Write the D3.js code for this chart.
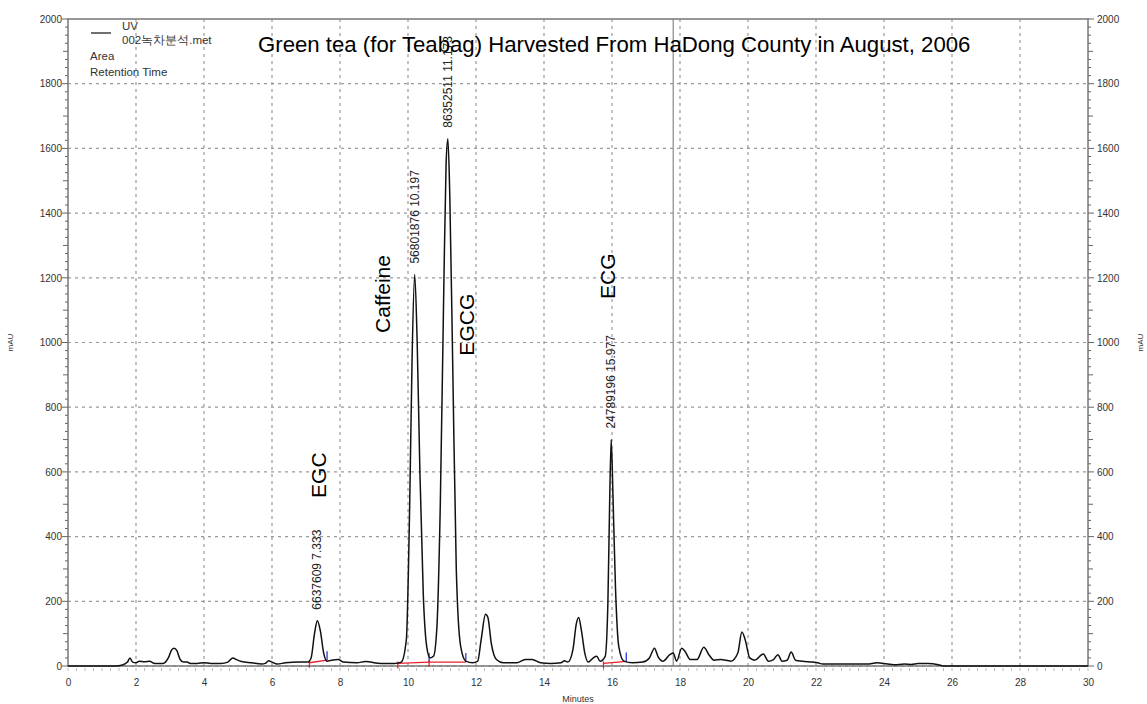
<!DOCTYPE html>
<html>
<head>
<meta charset="utf-8">
<script src="https://cdn.jsdelivr.net/npm/d3@7"></script>
<style>
  body { margin: 0; background: #fff; }
  text { font-family: "Liberation Sans", Arial, sans-serif; }
</style>
</head>
<body>
<div id="chart"></div>
<script>
// Traço do cromatograma (minutos, mAU)
const tempos = [0, 1.4, 1.6, 1.75, 1.82, 1.9, 2.0, 2.1, 2.25, 2.4, 2.55, 2.8, 2.95, 3.05, 3.12, 3.2, 3.3, 3.4, 3.5, 3.6,
  3.8, 4.0, 4.2, 4.5, 4.7, 4.85, 4.95, 5.1, 5.4, 5.7, 5.8, 5.9, 6.0, 6.15, 6.4, 6.8, 7.05, 7.15, 7.25, 7.333,
  7.42, 7.52, 7.62, 7.75, 7.95, 8.1, 8.5, 8.75, 8.9, 9.2, 9.6, 9.8, 9.95, 10.05, 10.12, 10.197, 10.27, 10.35, 10.45, 10.55,
  10.65, 10.75, 10.85, 10.95, 11.05, 11.12, 11.173, 11.23, 11.32, 11.42, 11.55, 11.7, 11.9, 12.05, 12.15, 12.28, 12.35, 12.45, 12.6, 12.8,
  13.2, 13.45, 13.65, 13.9, 14.2, 14.5, 14.6, 14.7, 14.85, 14.95, 15.02, 15.1, 15.2, 15.3, 15.45, 15.55, 15.65, 15.8, 15.88, 15.93,
  15.977, 16.03, 16.1, 16.2, 16.35, 16.6, 16.9, 17.1, 17.25, 17.35, 17.5, 17.7, 17.8, 17.9, 18.05, 18.15, 18.3, 18.5, 18.7, 18.85,
  19.0, 19.2, 19.5, 19.7, 19.82, 19.92, 20.05, 20.2, 20.45, 20.6, 20.75, 20.88, 21.0, 21.15, 21.27, 21.4, 21.6, 21.9, 22.05, 22.2,
  23.5, 23.8, 24.0, 24.3, 24.6, 24.8, 25.0, 25.3, 25.6, 25.75, 30];
const sinal = [0, 0, 3, 12, 25, 12, 10, 15, 13, 15, 8, 8, 25, 50, 55, 48, 20, 12, 12, 8,
  8, 10, 8, 8, 12, 25, 20, 14, 10, 6, 8, 16, 12, 6, 10, 12, 12, 25, 100, 140,
  110, 40, 15, 18, 20, 12, 10, 14, 12, 8, 8, 12, 80, 500, 950, 1210, 1000, 600, 220, 60,
  25, 30, 120, 500, 1150, 1550, 1630, 1450, 900, 300, 60, 15, 10, 15, 80, 160, 150, 70, 20, 10,
  10, 20, 20, 10, 8, 10, 16, 12, 50, 130, 150, 110, 40, 12, 25, 30, 15, 30, 200, 500,
  700, 520, 250, 60, 15, 10, 12, 25, 55, 30, 15, 35, 40, 15, 55, 45, 20, 20, 58, 35,
  18, 20, 15, 40, 105, 80, 25, 18, 37, 15, 20, 35, 15, 18, 43, 18, 15, 12, 10, 6,
  6, 10, 8, 4, 6, 5, 8, 8, 4, 0, 0];

// Picos integrados
const picosNome = ['EGC', 'Caffeine', 'EGCG', 'ECG'];
const picosArea = ['6637609', '56801876', '86352511', '24789196'];
const picosTempo = [7.333, 10.197, 11.173, 15.977];
const picosAltura = [140, 1210, 1630, 700];

// Linhas de base da integração: [início, fim, mAU início, mAU fim]
const basesInicio = [7.1, 9.7, 10.62, 15.75];
const basesFim = [7.62, 10.62, 11.7, 16.42];
const basesNivelIni = [10, 8, 12, 8];
const basesNivelFim = [18, 12, 12, 14];

const xTicks = d3.range(0, 31, 2);
const yTicks = d3.range(0, 2001, 200);
const linhaVertical = 17.8;

// Configurações do gráfico
const W = 1147, H = 704;
const margin = { top: 19, right: 59, bottom: 38, left: 68 };
const width = W - margin.left - margin.right;
const height = H - margin.top - margin.bottom;

const svg = d3.select('#chart').append('svg')
  .attr('width', W).attr('height', H);
svg.append('rect').attr('width', W).attr('height', H).attr('fill', '#fff');

const g = svg.append('g').attr('transform', `translate(${margin.left},${margin.top})`);

const x = d3.scaleLinear().domain([0, 30]).range([0, width]);
const y = d3.scaleLinear().domain([0, 2000]).range([height, 0]);

// Grade tracejada
g.append('g').selectAll('line').data(xTicks.slice(1, -1)).join('line')
  .attr('x1', d => x(d)).attr('x2', d => x(d)).attr('y1', 0).attr('y2', height)
  .attr('stroke', '#999').attr('stroke-width', 1.2).attr('stroke-dasharray', '3,4');
g.append('g').selectAll('line').data(yTicks.slice(0, -1)).join('line')
  .attr('x1', 0).attr('x2', width).attr('y1', d => y(d)).attr('y2', d => y(d))
  .attr('stroke', '#999').attr('stroke-width', 1.2).attr('stroke-dasharray', '3,4');

// Linha vertical sólida
g.append('line')
  .attr('x1', x(linhaVertical)).attr('x2', x(linhaVertical)).attr('y1', 0).attr('y2', height)
  .attr('stroke', '#888').attr('stroke-width', 1.2);

// Moldura
g.append('rect').attr('width', width).attr('height', height)
  .attr('fill', 'none').attr('stroke', '#777').attr('stroke-width', 1.5);

// Eixos
const tickFont = sel => sel.selectAll('text')
  .attr('font-size', 10).attr('fill', '#333');

const yMinor = d3.range(0, 2001, 25);
function marcas(sel, lado) {
  sel.selectAll('line.m').data(yMinor).join('line')
    .attr('x1', 0)
    .attr('x2', d => lado * (d % 200 === 0 ? 6 : d % 100 === 0 ? 5 : 3))
    .attr('y1', d => y(d)).attr('y2', d => y(d))
    .attr('stroke', '#666');
}

const eixoEsq = g.append('g')
  .call(d3.axisLeft(y).tickValues(yTicks).tickFormat(d3.format('d')).tickSize(0).tickPadding(6));
eixoEsq.select('.domain').remove();
tickFont(eixoEsq);
marcas(eixoEsq, -1);

const eixoDir = g.append('g').attr('transform', `translate(${width},0)`)
  .call(d3.axisRight(y).tickValues(yTicks).tickFormat(d3.format('d')).tickSize(0).tickPadding(9));
eixoDir.select('.domain').remove();
tickFont(eixoDir);
marcas(eixoDir, 1);

const eixoX = g.append('g').attr('transform', `translate(0,${height})`)
  .call(d3.axisBottom(x).tickValues(xTicks).tickSize(0).tickPadding(13));
eixoX.select('.domain').remove();
tickFont(eixoX);
eixoX.selectAll('line.m').data(d3.range(0, 30.01, 0.25)).join('line')
  .attr('x1', d => x(d)).attr('x2', d => x(d)).attr('y1', 2).attr('y2', 5)
  .attr('stroke', '#bbb');

// Títulos dos eixos
svg.append('text').attr('x', margin.left + width / 2).attr('y', H - 2)
  .attr('text-anchor', 'middle').attr('font-size', 9).attr('fill', '#333').text('Minutes');
svg.append('text').attr('transform', `translate(13,${margin.top + height / 2}) rotate(-90)`)
  .attr('text-anchor', 'middle').attr('font-size', 8).attr('fill', '#333').text('mAU');
svg.append('text').attr('transform', `translate(1143,${margin.top + height / 2}) rotate(-90)`)
  .attr('text-anchor', 'middle').attr('font-size', 8).attr('fill', '#333').text('mAU');

// Linhas de base de integração (vermelho) e marcas
basesInicio.forEach((b, i) => {
  g.append('line')
    .attr('x1', x(b)).attr('x2', x(basesFim[i]))
    .attr('y1', y(basesNivelIni[i])).attr('y2', y(basesNivelFim[i]))
    .attr('stroke', '#e8202a').attr('stroke-width', 1.3);
  g.append('line')
    .attr('x1', x(b)).attr('x2', x(b))
    .attr('y1', y(basesNivelIni[i]) - 2).attr('y2', y(basesNivelIni[i]) + 5)
    .attr('stroke', '#e8202a').attr('stroke-width', 1.3);
  g.append('line')
    .attr('x1', x(basesFim[i])).attr('x2', x(basesFim[i]))
    .attr('y1', y(basesNivelFim[i]) - 9).attr('y2', y(basesNivelFim[i]))
    .attr('stroke', '#2a3bd6').attr('stroke-width', 1.3);
});

// Sinal
const linha = d3.line()
  .x((d, i) => x(tempos[i]))
  .y(d => y(d))
  .curve(d3.curveMonotoneX);

g.append('path').datum(sinal)
  .attr('d', linha)
  .attr('fill', 'none')
  .attr('stroke', '#111')
  .attr('stroke-width', 1.5);

// Área e tempo de retenção sobre cada pico
picosTempo.forEach((t, i) => {
  g.append('text')
    .attr('transform', `translate(${x(t) + 4},${y(picosAltura[i]) - 11}) rotate(-90)`)
    .attr('font-size', 12).attr('fill', '#222')
    .text(`${picosArea[i]}  ${t.toFixed(3)}`);
});

// Nomes dos compostos (centro em minutos / mAU)
const nomesPos = [[7.38, 590], [9.26, 1150], [11.73, 1055], [15.88, 1205]];
picosNome.forEach((n, i) => {
  g.append('text')
    .attr('transform', `translate(${x(nomesPos[i][0]) + 7},${y(nomesPos[i][1])}) rotate(-90)`)
    .attr('text-anchor', 'middle')
    .attr('font-size', 21).attr('fill', '#000')
    .text(n);
});

// Título
svg.append('text').attr('x', 258).attr('y', 52)
  .attr('font-size', 22.2).attr('fill', '#000')
  .text('Green tea (for Teabag) Harvested From HaDong County in August, 2006');

// Legenda
svg.append('line').attr('x1', 91).attr('x2', 111).attr('y1', 33).attr('y2', 33)
  .attr('stroke', '#222').attr('stroke-width', 1.3);
const leg = [['UV', 122, 30], ['002녹차분석.met', 122, 44], ['Area', 90, 60], ['Retention Time', 90, 76]];
leg.forEach(l => {
  svg.append('text').attr('x', l[1]).attr('y', l[2])
    .attr('font-size', 11.5).attr('fill', '#333').text(l[0]);
});
</script>
</body>
</html>
